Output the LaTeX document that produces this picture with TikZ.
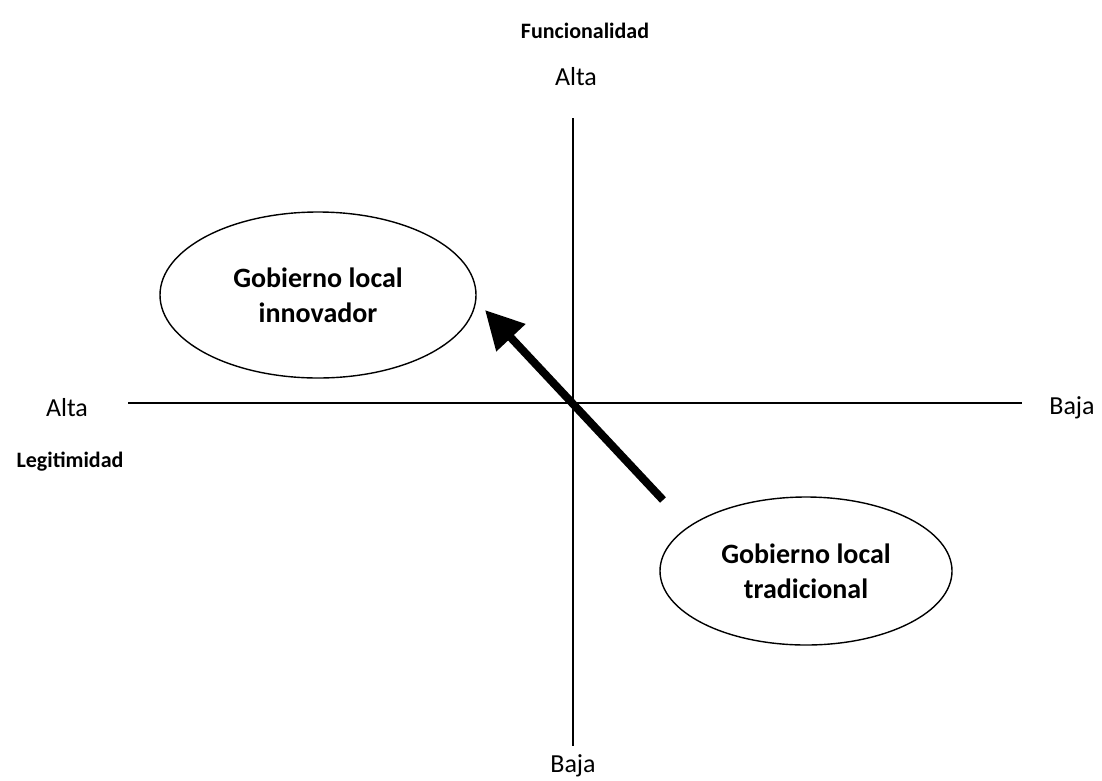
\documentclass[tikz,border=0pt]{standalone}
\usepackage{fontspec}
\setmainfont{Carlito}
\usetikzlibrary{shapes.geometric,arrows.meta}
\begin{document}
\begin{tikzpicture}[x=1pt,y=-1pt,
  axis/.style={line width=1.2pt},
  lbl/.style={font=\fontsize{26}{28}\selectfont, inner sep=0pt},
  ttl/.style={font=\bfseries\fontsize{22}{24}\selectfont, inner sep=0pt},
  oval/.style={draw, ellipse, line width=1.4pt, font=\bfseries\fontsize{28}{35}\selectfont, align=center, inner sep=0pt},
  bigarrow/.style={line width=8pt, -{Triangle[length=38pt,width=38pt]}}]
\useasboundingbox (0,0) rectangle (1102,780);
\coordinate (vt) at (573,118);
\coordinate (vb) at (573,746);
\coordinate (hl) at (128,403);
\coordinate (hr) at (1022,403);
\draw[axis] (vt) -- (vb);
\draw[axis] (hl) -- (hr);
\node[ttl] (func) at (585,31) {Funcionalidad};
\node[lbl] (altat) at (576,77) {Alta};
\node[lbl] (bajab) at (573,766) {Baja};
\node[lbl] (altal) at (67,408) {Alta};
\node[lbl] (bajar) at (1072,408) {Baja};
\node[ttl] (legit) at (70,462) {Legitimidad};
\node[oval, minimum width=316pt, minimum height=166pt] (innov) at (318,295) {Gobierno local\\innovador};
\node[oval, minimum width=292pt, minimum height=148pt] (trad) at (806,571) {Gobierno local\\tradicional};
\coordinate (tail) at (663,500);
\coordinate (tip) at (485,310);
\draw[bigarrow] (tail) -- (tip);
\end{tikzpicture}
\end{document}
